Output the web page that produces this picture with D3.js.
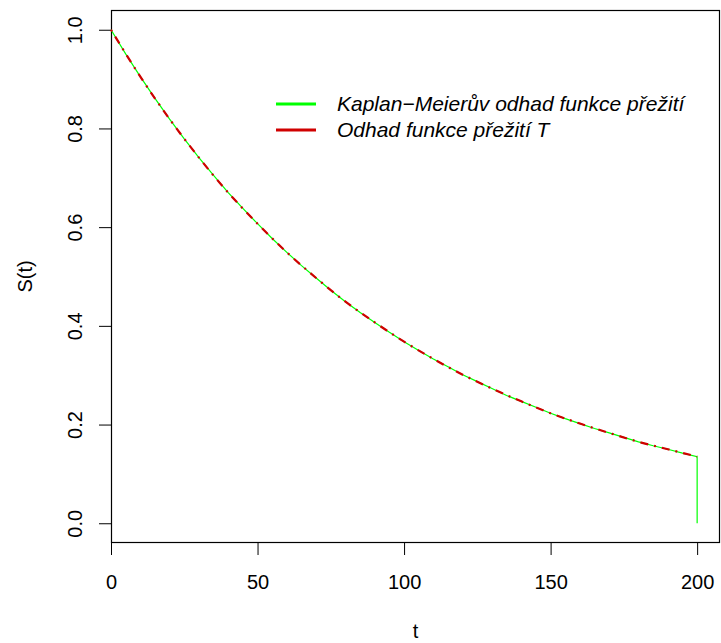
<!DOCTYPE html>
<html>
<head>
	<meta charset="utf-8">
	<title>Odhad funkce přežití</title>
	<script src="https://d3js.org/d3.v7.min.js"></script>
	<style type="text/css">
		*
		{
			margin:0;
			padding:0;
		}
		body
		{
			background:#fff;
			font-family: "Liberation Sans", Arial, sans-serif;
		}
		.axis text
		{
			font-size:20px;
			fill:#000;
		}
	</style>
</head>
<body>
	<div id="chart"></div>
	<script>
		// Kaplan-Meier estimate (very fine steps)
		const kmTime = [0, 5, 10, 15, 20, 25, 30, 35, 40, 45, 50, 55, 60, 65, 70, 75, 80, 85, 90, 95, 100,
			105, 110, 115, 120, 125, 130, 135, 140, 145, 150, 155, 160, 165, 170, 175, 180, 185, 190, 195, 200, 200];
		const kmSurv = [1.0, 0.951, 0.905, 0.861, 0.819, 0.779, 0.741, 0.705, 0.670, 0.638, 0.607, 0.577, 0.549, 0.522, 0.497, 0.472, 0.449, 0.427, 0.407, 0.387, 0.368,
			0.350, 0.333, 0.317, 0.301, 0.287, 0.273, 0.259, 0.247, 0.235, 0.223, 0.212, 0.202, 0.192, 0.183, 0.174, 0.165, 0.157, 0.150, 0.142, 0.135, 0.0];

		// parametric estimate of S(t) for T
		const estTime = [0, 10, 20, 30, 40, 50, 60, 70, 80, 90, 100, 110, 120, 130, 140, 150, 160, 170, 180, 190, 200];
		const estSurv = [1.0, 0.905, 0.819, 0.741, 0.670, 0.607, 0.549, 0.497, 0.449, 0.407, 0.368, 0.333, 0.301, 0.273, 0.247, 0.223, 0.202, 0.183, 0.165, 0.150, 0.135];

		const xTicks = [0, 50, 100, 150, 200];
		const yTicks = [0.0, 0.2, 0.4, 0.6, 0.8, 1.0];
		const legendLabels = ["Kaplan\u2212Meierův odhad funkce přežití", "Odhad funkce přežití T"];
		const legendColors = ["#00ff00", "#d00000"];

		const width = 721;
		const height = 643;
		const mLeft = 111, mRight = 720, mTop = 10, mBottom = 543;

		const svg = d3.select("#chart").append("svg")
			.attr("width", width)
			.attr("height", height);

		const xScale = d3.scaleLinear().domain([0, 207.8]).range([mLeft, mRight]);
		const yScale = d3.scaleLinear().domain([-0.04, 1.04]).range([mBottom, mTop]);

		// x axis
		const xAxis = svg.append("g")
			.attr("class", "axis")
			.attr("transform", "translate(0," + mBottom + ")")
			.call(d3.axisBottom(xScale).tickValues(xTicks).tickSize(12).tickPadding(20).tickFormat(d3.format("d")));
		xAxis.select(".domain").remove();
		xAxis.selectAll("line").attr("stroke", "#000");

		// y axis
		const yAxis = svg.append("g")
			.attr("class", "axis")
			.attr("transform", "translate(" + mLeft + ",0)")
			.call(d3.axisLeft(yScale).tickValues(yTicks).tickSize(12).tickFormat(d3.format(".1f")));
		yAxis.select(".domain").remove();
		yAxis.selectAll("line").attr("stroke", "#000");
		yAxis.selectAll("text")
			.attr("x", null).attr("dy", null)
			.attr("text-anchor", "middle")
			.attr("transform", "translate(-29,0) rotate(-90)");

		// frame
		svg.append("rect")
			.attr("x", mLeft + 0.5).attr("y", mTop + 0.5)
			.attr("width", mRight - mLeft - 1).attr("height", mBottom - mTop - 1)
			.attr("fill", "none").attr("stroke", "#000").attr("stroke-width", 1.2);

		// axis titles
		svg.append("text")
			.attr("x", (mLeft + mRight) / 2).attr("y", 638)
			.attr("text-anchor", "middle").attr("font-size", 20)
			.text("t");
		svg.append("text")
			.attr("transform", "translate(32," + (mTop + mBottom) / 2 + ") rotate(-90)")
			.attr("text-anchor", "middle").attr("font-size", 20)
			.text("S(t)");

		// curves
		const kmLine = d3.line()
			.x((d, i) => xScale(kmTime[i]))
			.y(d => yScale(d));
		svg.append("path")
			.datum(kmSurv)
			.attr("d", kmLine)
			.attr("fill", "none")
			.attr("stroke", legendColors[0])
			.attr("stroke-width", 1.2);

		const estLine = d3.line()
			.x((d, i) => xScale(estTime[i]))
			.y(d => yScale(d))
			.curve(d3.curveMonotoneX);
		svg.append("path")
			.datum(estSurv)
			.attr("d", estLine)
			.attr("fill", "none")
			.attr("stroke", legendColors[1])
			.attr("stroke-width", 2.2)
			.attr("stroke-dasharray", "2,6,8,6");

		// legend
		const legend = svg.append("g").attr("transform", "translate(276,104)");
		legendLabels.forEach((label, i) => {
			legend.append("line")
				.attr("x1", 0).attr("x2", 40)
				.attr("y1", i * 26).attr("y2", i * 26)
				.attr("stroke", legendColors[i])
				.attr("stroke-width", 3);
			legend.append("text")
				.attr("x", 61).attr("y", i * 26 + 7)
				.attr("font-size", 21)
				.attr("font-style", "italic")
				.text(label);
		});
	</script>
</body>
</html>
